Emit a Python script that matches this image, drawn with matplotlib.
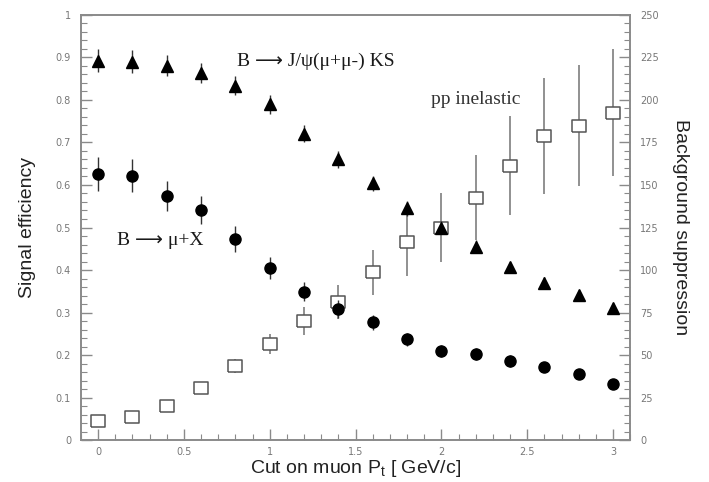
import matplotlib.pyplot as plt
from matplotlib.ticker import MultipleLocator
import numpy as np

# Cut values on muon Pt (GeV/c)
pt_cut = [0.0, 0.2, 0.4, 0.6, 0.8, 1.0, 1.2, 1.4, 1.6, 1.8, 2.0, 2.2, 2.4, 2.6, 2.8, 3.0]

# B -> J/psi(mu+mu-) KS signal efficiency
eff_jpsi = [0.892, 0.890, 0.881, 0.864, 0.834, 0.790, 0.720, 0.660, 0.604, 0.545, 0.500, 0.455,
            0.406, 0.370, 0.341, 0.310]
err_jpsi = [0.027, 0.027, 0.025, 0.024, 0.023, 0.022, 0.020, 0.019, 0.018, 0.017, 0.016, 0.015,
            0.014, 0.013, 0.012, 0.012]

# B -> mu+X signal efficiency
eff_mux = [0.627, 0.622, 0.574, 0.541, 0.473, 0.404, 0.349, 0.308, 0.277, 0.237, 0.209, 0.202,
           0.186, 0.171, 0.155, 0.133]
err_mux = [0.040, 0.038, 0.035, 0.033, 0.030, 0.026, 0.022, 0.022, 0.018, 0.016, 0.014, 0.014,
           0.013, 0.012, 0.011, 0.010]

# pp inelastic background suppression (right axis)
bkg_pp = [11.2, 13.3, 20.0, 30.8, 43.5, 56.5, 70.0, 81.4, 98.6, 116.7, 125.0, 142.5,
          161.4, 178.8, 184.9, 192.5]
err_pp = [1.0, 1.2, 1.8, 2.5, 4.0, 6.0, 8.0, 10.0, 13.0, 20.0, 20.0, 25.0,
          29.0, 34.0, 35.5, 37.5]

AXIS_GRAY = '#8a8a8a'
TICK_GRAY = '#777777'
LABEL_FONT = ['Liberation Sans', 'DejaVu Sans']
SERIF = ['Liberation Serif', 'DejaVu Sans']

fig = plt.figure(figsize=(7.09, 4.82), dpi=100)
ax = fig.add_axes([0.114, 0.087, 0.775, 0.882])
ax2 = ax.twinx()

# wide open square marker
box = [(-1, -0.8), (1, -0.8), (1, 0.8), (-1, 0.8), (-1, -0.8)]

# Background (open squares) on right axis
ax2.errorbar(pt_cut, bkg_pp, yerr=err_pp, fmt='none', ecolor='#888888', elinewidth=1.3,
             capsize=0, zorder=2)
ax2.plot(pt_cut, bkg_pp, linestyle='none', marker=box, ms=10, mfc='white', mec='#555555',
         mew=1.1, zorder=3)

ax.errorbar(pt_cut, eff_jpsi, yerr=err_jpsi, fmt='^', ms=8, color='black',
            ecolor='#333333', elinewidth=1.0, capsize=0, zorder=3)
ax.errorbar(pt_cut, eff_mux, yerr=err_mux, fmt='o', ms=8, color='black',
            ecolor='#333333', elinewidth=1.0, capsize=0, zorder=3)

ax.set_zorder(ax2.get_zorder() + 1)
ax.patch.set_visible(False)

ax.set_xlim(-0.1, 3.1)
ax.set_ylim(0, 1)
ax2.set_ylim(0, 250)

ax.xaxis.set_minor_locator(MultipleLocator(0.1))
ax.yaxis.set_minor_locator(MultipleLocator(0.02))
ax2.yaxis.set_major_locator(MultipleLocator(25))
ax2.yaxis.set_minor_locator(MultipleLocator(5))

ax.set_xticks(np.arange(0, 3.01, 0.5))
ax.set_xticklabels(['0', '0.5', '1', '1.5', '2', '2.5', '3'])
ax.set_yticks(np.arange(0, 1.01, 0.1))
ax.set_yticklabels(['0', '0.1', '0.2', '0.3', '0.4', '0.5', '0.6', '0.7', '0.8', '0.9', '1'])

for a in (ax, ax2):
    for s in a.spines.values():
        s.set_color(AXIS_GRAY)
        s.set_linewidth(1.2)
    a.tick_params(which='both', direction='in', color=AXIS_GRAY, labelcolor=TICK_GRAY,
                  labelsize=7)
    a.tick_params(which='major', length=8, width=1.0, pad=7)
    a.tick_params(which='minor', length=4, width=0.8)
ax.tick_params(axis='x', which='major', pad=5)
ax.tick_params(axis='y', right=False, which='both')
ax.tick_params(axis='x', top=False, which='both')
ax2.tick_params(axis='y', left=False, which='both')

ax.set_ylabel('Signal efficiency', fontsize=14, family=LABEL_FONT, color='#222222',
              labelpad=14)
ax2.set_ylabel('Background suppression', fontsize=14, family=LABEL_FONT, color='#222222',
               rotation=-90, labelpad=22)
ax.set_xlabel('Cut on muon P$_\\mathregular{t}$ [ GeV/c]', fontsize=14, family=LABEL_FONT,
              color='#222222', labelpad=1)

ax.text(0.81, 0.89, 'B \u27f6 J/\u03c8(\u03bc+\u03bc-) KS', fontsize=14, family=SERIF,
        color='#1a1a1a', va='center', ha='left')
ax.text(1.94, 0.80, 'pp inelastic', fontsize=14, family=SERIF, color='#333333',
        va='center', ha='left')
ax.text(0.11, 0.47, 'B \u27f6 \u03bc+X', fontsize=14, family=SERIF, color='#1a1a1a',
        va='center', ha='left')

fig.savefig('out.png', dpi=100)
